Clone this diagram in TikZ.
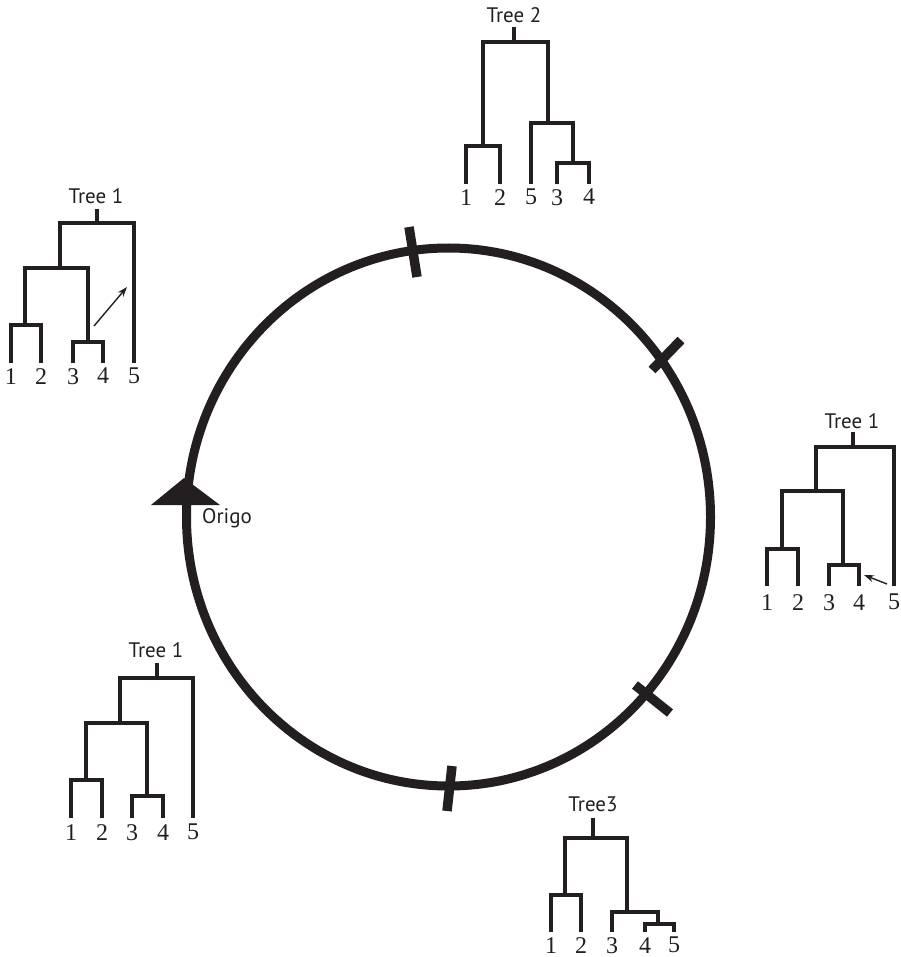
\documentclass[tikz,border=0pt]{standalone}
\usepackage{fontspec}
\setmainfont{Liberation Serif}
\newfontfamily\labelfont{PT Sans}
\usetikzlibrary{arrows.meta}
\definecolor{ink}{RGB}{35,31,32}
\tikzset{
	branch/.style={ink, line width=3.2pt},
	leaf/.style={ink, anchor=north, inner sep=0pt, font=\fontsize{24}{25}\selectfont},
	treename/.style={ink, inner sep=0pt, font=\labelfont\fontsize{21}{23}\selectfont},
	ring/.style={ink, line width=9pt},
	ringmark/.style={ink, line width=9.5pt},
	move/.style={ink, line width=1.4pt, -{Stealth[length=10pt,width=7pt]}}
}
\begin{document}
\begin{tikzpicture}[x=1pt,y=-1pt]
	\useasboundingbox (0,0) rectangle (900,957);

	% the cycle
	\draw[ring] (448.5,517) ellipse [x radius=262, y radius=269];
	\draw[ringmark] (409,227) -- (417,277);
	\draw[ringmark] (652,370) -- (681,340);
	\draw[ringmark] (635,685) -- (670,713);
	\draw[ringmark] (452,766) -- (447,811);
	\fill[ink] (151,505) -- (220,505) -- (184,478) -- cycle;
	\node[treename] (origo) at (227,518) {Origo};

	% Tree 1, upper left
	\node[treename] (nameTL) at (96,196) {Tree 1};
	\draw[branch] (97,209) -- (97,223);
	\draw[branch] (60,268) -- (60,223) -- (134,223) -- (134,363);
	\draw[branch] (25,325) -- (25,268) -- (88,268) -- (88,342);
	\draw[branch] (11,363) -- (11,325) -- (41,325) -- (41,363);
	\draw[branch] (73,363) -- (73,342) -- (103,342) -- (103,363);
	\node[leaf] (tlA) at (11,368) {1};
	\node[leaf] (tlB) at (41,368) {2};
	\node[leaf] (tlC) at (73,368) {3};
	\node[leaf] (tlD) at (103,368) {4};
	\node[leaf] (tlE) at (134,368) {5};
	\coordinate (tlFrom) at (94,326);
	\coordinate (tlTo) at (127,287);
	\draw[move] (tlFrom) -- (tlTo);

	% Tree 2, top
	\node[treename] (nameT) at (514,15) {Tree 2};
	\draw[branch] (514,27) -- (514,42);
	\draw[branch] (483,146) -- (483,42) -- (548,42) -- (548,123);
	\draw[branch] (466,184) -- (466,146) -- (500,146) -- (500,184);
	\draw[branch] (531,184) -- (531,123) -- (573,123) -- (573,163);
	\draw[branch] (557,184) -- (557,163) -- (589,163) -- (589,184);
	\node[leaf] (tA) at (466,189) {1};
	\node[leaf] (tB) at (500,189) {2};
	\node[leaf] (tE) at (531,189) {5};
	\node[leaf] (tC) at (557,189) {3};
	\node[leaf] (tD) at (589,189) {4};

	% Tree 1, right
	\node[treename] (nameR) at (852,421) {Tree 1};
	\draw[branch] (853,432) -- (853,447);
	\draw[branch] (816,491) -- (816,447) -- (894,447) -- (894,586);
	\draw[branch] (782,549) -- (782,491) -- (843,491) -- (843,565);
	\draw[branch] (767,586) -- (767,549) -- (798,549) -- (798,586);
	\draw[branch] (829,586) -- (829,565) -- (859,565) -- (859,586);
	\node[leaf] (rA) at (767,594) {1};
	\node[leaf] (rB) at (798,594) {2};
	\node[leaf] (rC) at (829,594) {3};
	\node[leaf] (rD) at (859,594) {4};
	\node[leaf] (rE) at (894,594) {5};
	\coordinate (rFrom) at (887,584);
	\coordinate (rTo) at (864,575);
	\draw[move] (rFrom) -- (rTo);

	% Tree 1, lower left
	\node[treename] (nameBL) at (156,650) {Tree 1};
	\draw[branch] (157,663) -- (157,678);
	\draw[branch] (120,723) -- (120,678) -- (193,678) -- (193,818);
	\draw[branch] (86,780) -- (86,723) -- (147,723) -- (147,796);
	\draw[branch] (71,818) -- (71,780) -- (102,780) -- (102,818);
	\draw[branch] (132,818) -- (132,796) -- (163,796) -- (163,818);
	\node[leaf] (blA) at (71,824) {1};
	\node[leaf] (blB) at (102,824) {2};
	\node[leaf] (blC) at (132,824) {3};
	\node[leaf] (blD) at (163,824) {4};
	\node[leaf] (blE) at (193,824) {5};

	% Tree3, bottom
	\node[treename] (nameB) at (593,804) {Tree3};
	\draw[branch] (593,818) -- (593,838);
	\draw[branch] (565,895) -- (565,838) -- (627,838) -- (627,912);
	\draw[branch] (551,932) -- (551,895) -- (581,895) -- (581,932);
	\draw[branch] (612,932) -- (612,912) -- (658,912) -- (658,924);
	\draw[branch] (645,932) -- (645,924) -- (674,924) -- (674,932);
	\node[leaf] (bA) at (551,937) {1};
	\node[leaf] (bB) at (581,937) {2};
	\node[leaf] (bC) at (612,937) {3};
	\node[leaf] (bD) at (645,937) {4};
	\node[leaf] (bE) at (674,937) {5};

\end{tikzpicture}
\end{document}
